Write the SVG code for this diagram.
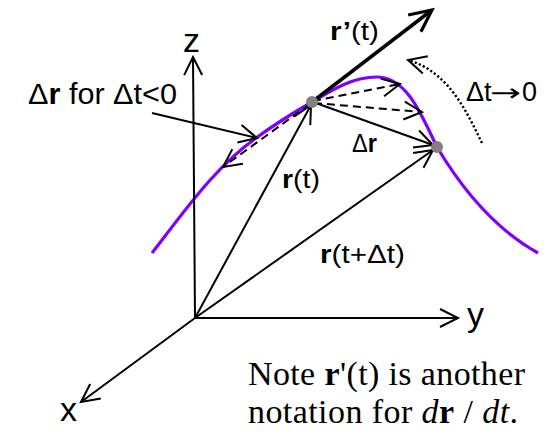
<svg xmlns="http://www.w3.org/2000/svg" width="556" height="441" viewBox="0 0 556 441">
<style>
.ln{fill:none;stroke:#000;stroke-width:2}
.dash{stroke-dasharray:8 5}
.dot{stroke-dasharray:2.2 2.2;stroke-width:2.4}
.curve{fill:none;stroke:#8000ff;stroke-width:3.2}
.pt{fill:#808080}
.sans{font-family:"Liberation Sans",Arial,sans-serif;fill:#000}
.serif{font-family:"Liberation Serif","Times New Roman",serif;fill:#000;font-size:34px}
.b{font-weight:bold}
.i{font-style:italic}
</style>
<defs>
<marker id="ah" viewBox="-20 -10 22 20" refX="0" refY="0" markerWidth="22" markerHeight="20" markerUnits="userSpaceOnUse" orient="auto" overflow="visible">
<path d="M-18,-9 L0,0 L-18,9" fill="none" stroke="#000" stroke-width="2" stroke-dasharray="none"/>
</marker>
<marker id="ahb" viewBox="-24 -12 26 24" refX="0" refY="0" markerWidth="26" markerHeight="24" markerUnits="userSpaceOnUse" orient="auto" overflow="visible">
<path d="M-22,-10.5 L0,0 L-22,10.5" fill="none" stroke="#000" stroke-width="3.2" stroke-dasharray="none"/>
</marker>
</defs>

<g id="curve">
<path class="curve" d="M152,253 C184,212 214,168 256,138 C274,125 293,113 312,102 C332,90 352,77 377,77 C408,77 423,119 437,147 C462,189 495,229 538,253"/>
</g>

<g id="connectors">
<line id="axis-z" class="ln" x1="195" y1="318" x2="193" y2="57" marker-end="url(#ah)"/>
<line id="axis-y" class="ln" x1="195" y1="318" x2="458" y2="318" marker-end="url(#ah)"/>
<line id="axis-x" class="ln" x1="195" y1="318" x2="81" y2="402" marker-end="url(#ah)"/>
<line id="vec-rt" class="ln" x1="195" y1="318" x2="311" y2="105" marker-end="url(#ah)"/>
<line id="vec-rtdt" class="ln" x1="195" y1="318" x2="433" y2="150" marker-end="url(#ah)"/>
<line id="vec-dr" class="ln" x1="313" y1="102" x2="433" y2="145" marker-end="url(#ah)"/>
<line id="vec-tangent" class="ln" style="stroke-width:3.5" x1="312" y1="102" x2="432" y2="10" marker-end="url(#ahb)"/>
<line id="dash1" class="ln dash" x1="313" y1="101" x2="400" y2="84" marker-end="url(#ah)"/>
<line id="dash2" class="ln dash" x1="314" y1="103" x2="422" y2="112" marker-end="url(#ah)"/>
<line id="dash-back" class="ln dash" x1="310" y1="104" x2="223" y2="167" marker-end="url(#ah)"/>
<line id="label-arrow" class="ln" x1="152" y1="113" x2="257" y2="138" marker-end="url(#ah)"/>
<path id="limit-arrow" class="ln dot" d="M482,143 C468,115 450,72 408,60" marker-end="url(#ah)"/>
</g>

<g id="points">
<circle id="P" class="pt" cx="312" cy="102" r="6"/>
<circle id="Q" class="pt" cx="437" cy="147" r="6"/>
</g>

<g id="labels">
<text class="sans" x="183" y="52" font-size="34">z</text>
<text class="sans" x="467" y="326" font-size="34">y</text>
<text class="sans" x="60" y="421" font-size="34">x</text>
<text class="sans" x="330" y="40" font-size="26" textLength="49" lengthAdjust="spacingAndGlyphs"><tspan class="b">r’</tspan>(t)</text>
<text class="sans" x="28" y="104" font-size="29" textLength="149" lengthAdjust="spacingAndGlyphs">Δ<tspan class="b">r</tspan> for Δt&lt;0</text>
<text class="sans" x="352" y="152" font-size="25" textLength="25" lengthAdjust="spacingAndGlyphs">Δ<tspan class="b">r</tspan></text>
<text class="sans" x="282" y="188" font-size="26" textLength="38" lengthAdjust="spacingAndGlyphs"><tspan class="b">r</tspan>(t)</text>
<text class="sans" x="320" y="263" font-size="26" textLength="85" lengthAdjust="spacingAndGlyphs"><tspan class="b">r</tspan>(t+Δt)</text>
<text class="sans" x="466" y="101" font-size="27"><tspan>Δt</tspan><tspan x="490" font-family="'DejaVu Sans',sans-serif" font-size="24" textLength="31" lengthAdjust="spacingAndGlyphs">→</tspan><tspan x="522">0</tspan></text>
<text class="serif" x="248" y="385" textLength="277" lengthAdjust="spacing">Note <tspan class="b">r</tspan>'(t) is another</text>
<text class="serif" x="248" y="423" textLength="270" lengthAdjust="spacing">notation for <tspan class="i">d</tspan><tspan class="b">r</tspan> / <tspan class="i">dt</tspan>.</text>
</g>
</svg>
